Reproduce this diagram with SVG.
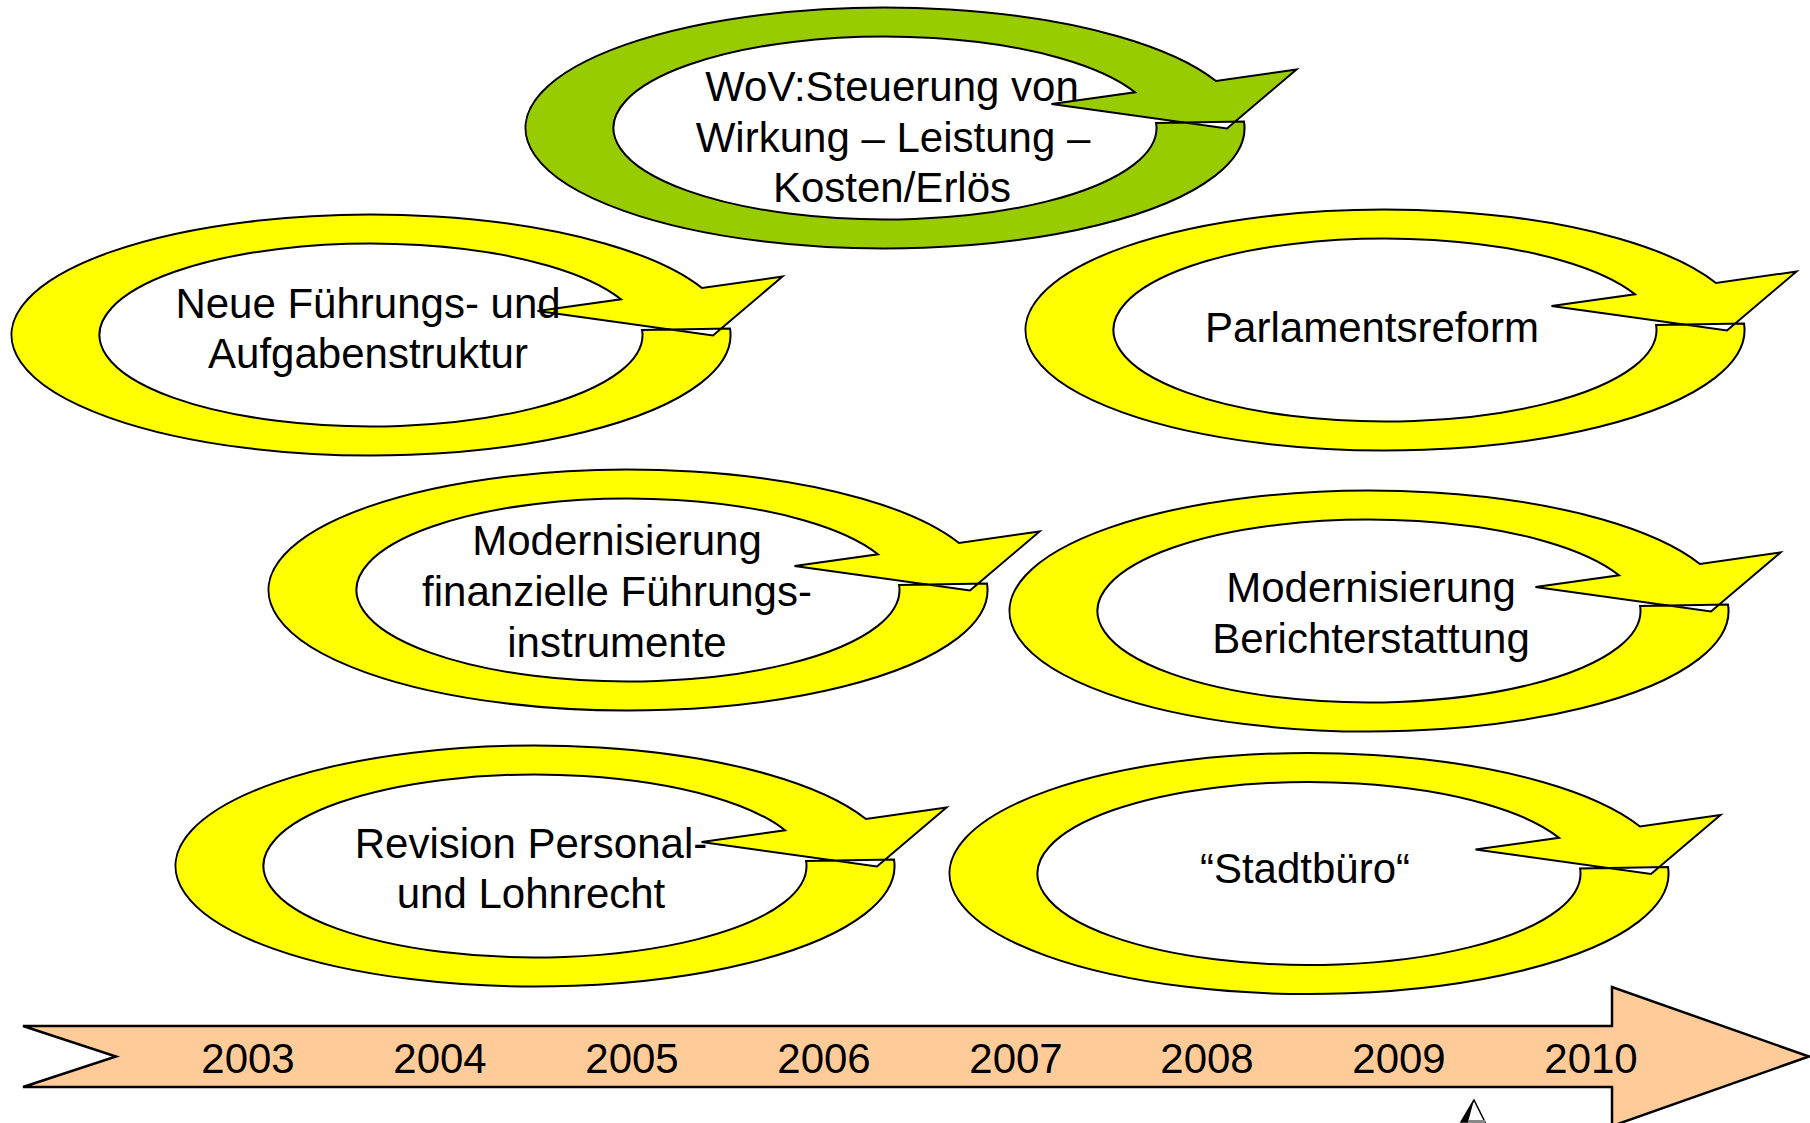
<svg xmlns="http://www.w3.org/2000/svg" xmlns:xlink="http://www.w3.org/1999/xlink" width="1810" height="1123" viewBox="0 0 1810 1123">
<style>
  .ring { fill-rule: evenodd; stroke: #000; stroke-width: 2; stroke-linejoin: miter; }
  .yellow { fill: #FFFF00; }
  .green { fill: #99CC00; }
  .lbl { font-family: "Liberation Sans", Arial, sans-serif; font-size: 42px; fill: #000; text-anchor: middle; }
  .time { fill: #FFCC99; stroke: #000; stroke-width: 2.5; stroke-linejoin: miter; }
</style>
<defs>
  <path id="ring" d="M 359.0 -6.5 A 359.5 120.5 0 1 1 331.0 -47.0 L 411.5 -58.5 L 342 0.5 L 166.5 -24 L 250.0 -35.7 A 271.5 91.5 0 1 0 271.1 -4.94 Z"/>
</defs>
<rect width="1810" height="1123" fill="#FFFFFF"/>

<g id="timeline">
  <path class="time" d="M 23 1026 L 1612 1026 L 1612 987 L 1809 1056.5 L 1612 1126 L 1612 1087 L 23 1087 L 116 1056.5 Z"/>
  <text class="lbl" x="248" y="1073">2003</text>
  <text class="lbl" x="440" y="1073">2004</text>
  <text class="lbl" x="632" y="1073">2005</text>
  <text class="lbl" x="824" y="1073">2006</text>
  <text class="lbl" x="1016" y="1073">2007</text>
  <text class="lbl" x="1207" y="1073">2008</text>
  <text class="lbl" x="1399" y="1073">2009</text>
  <text class="lbl" x="1591" y="1073">2010</text>
</g>

<g id="marker-icon">
  <polygon points="1474,1100 1461,1122 1485,1122" fill="#FFFFFF" stroke="#000" stroke-width="1.5"/>
  <polygon points="1474,1100 1461,1122 1468,1122" fill="#000"/>
  <rect x="1468" y="1120" width="17" height="3" fill="#888"/>
</g>

<g id="node-wov">
  <use xlink:href="#ring" href="#ring" class="ring green" transform="translate(885,128)"/>
  <text class="lbl" x="892" y="101">WoV:Steuerung von</text>
  <text class="lbl" x="893" y="152">Wirkung – Leistung –</text>
  <text class="lbl" x="892" y="202">Kosten/Erlös</text>
</g>

<g id="node-fuehrung">
  <use xlink:href="#ring" href="#ring" class="ring yellow" transform="translate(371,335)"/>
  <text class="lbl" x="368" y="318">Neue Führungs- und</text>
  <text class="lbl" x="368" y="368">Aufgabenstruktur</text>
</g>

<g id="node-parlament">
  <use xlink:href="#ring" href="#ring" class="ring yellow" transform="translate(1385,330)"/>
  <text class="lbl" x="1372" y="342">Parlamentsreform</text>
</g>

<g id="node-finanz">
  <use xlink:href="#ring" href="#ring" class="ring yellow" transform="translate(628,590)"/>
  <text class="lbl" x="617" y="555">Modernisierung</text>
  <text class="lbl" x="617" y="606">finanzielle Führungs-</text>
  <text class="lbl" x="617" y="657">instrumente</text>
</g>

<g id="node-bericht">
  <use xlink:href="#ring" href="#ring" class="ring yellow" transform="translate(1369,611)"/>
  <text class="lbl" x="1371" y="602">Modernisierung</text>
  <text class="lbl" x="1371" y="653">Berichterstattung</text>
</g>

<g id="node-revision">
  <use xlink:href="#ring" href="#ring" class="ring yellow" transform="translate(535,866)"/>
  <text class="lbl" x="531" y="858">Revision Personal-</text>
  <text class="lbl" x="531" y="908">und Lohnrecht</text>
</g>

<g id="node-stadtbuero">
  <use xlink:href="#ring" href="#ring" class="ring yellow" transform="translate(1309,873.5)"/>
  <text class="lbl" x="1305" y="883">“Stadtbüro“</text>
</g>

<g id="connectors"></g>
</svg>
